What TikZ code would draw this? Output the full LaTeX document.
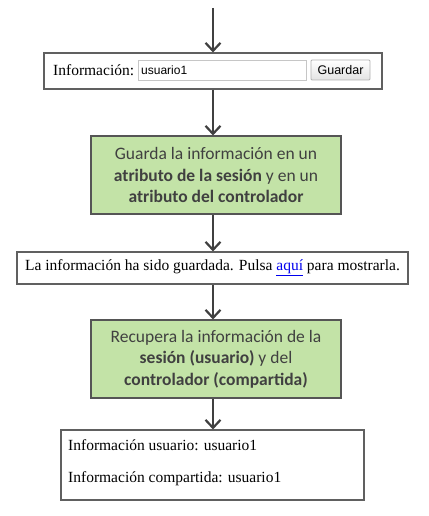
\documentclass[tikz,border=0pt]{standalone}
\usepackage{fontspec}
\usetikzlibrary{arrows.meta}
\newfontfamily\webserif{Liberation Serif}
\newfontfamily\websans{Liberation Sans}
\newfontfamily\slidefont{Carlito}
\definecolor{stepgreen}{HTML}{C3E3A7}
\definecolor{stepline}{HTML}{555555}
\definecolor{steptext}{HTML}{404040}
\definecolor{linkblue}{HTML}{0000EE}
\begin{document}
\begin{tikzpicture}[x=1pt,y=-1pt,line cap=butt,line join=miter,
    flow/.style={line width=2.6pt,draw=steptext,-{Straight Barb[length=8pt,width=15pt,line width=2.2pt]}},
    page/.style={draw=gray!75!black,line width=1.1pt,fill=white,inner sep=0pt},
    greenbox/.style={draw=stepline,line width=1.1pt,fill=stepgreen,inner sep=0pt,
      minimum width=250pt,minimum height=78pt,align=center,
      text=steptext,font=\slidefont\fontsize{17.5}{21.5}\selectfont},
    htmltext/.style={inner sep=0pt,font=\webserif\fontsize{15.5}{17}\selectfont}]
  \useasboundingbox (0,0) rectangle (428,516);
  \coordinate (start) at (213,8);
  % formulario
  \node[page,minimum width=338pt,minimum height=36pt] (form) at (213,71) {};
  \node[htmltext,anchor=west] (label) at (53,70.5) {Información:};
  \node[draw=gray!45,line width=0.8pt,fill=white,inner sep=0pt,
    minimum width=168pt,minimum height=20pt] (input) at (222,70) {};
  \node[anchor=west,inner sep=0pt,font=\websans\fontsize{12}{14}\selectfont] (value) at (141,70) {usuario1};
  \node[draw=gray!60,line width=0.8pt,top color=white,bottom color=gray!22,
    rounded corners=1pt,inner sep=0pt,minimum width=59pt,minimum height=20pt,
    font=\websans\fontsize{12.5}{14}\selectfont] (button) at (340.5,70) {Guardar};
  % pasos
  \node[greenbox] (store) at (216,175)
    {Guarda la información en un\\ \textbf{atributo de la sesión} y en un\\ \textbf{atributo del controlador}};
  \node[page,minimum width=391pt,minimum height=32pt,htmltext] (msg) at (212.5,268)
    {La información ha sido guardada. Pulsa \textcolor{linkblue}{\underline{aquí}} para mostrarla.};
  \node[greenbox] (fetch) at (216,359)
    {Recupera la información de la\\ \textbf{sesión (usuario)} y del\\ \textbf{controlador (compartida)}};
  \node[page,minimum width=303pt,minimum height=70pt] (result) at (212.5,465) {};
  \node[htmltext,anchor=west] (user) at (68,445) {Información usuario: usuario1};
  \node[htmltext,anchor=west] (shared) at (68,479) {Información compartida: usuario1};
  % flechas
  \draw[flow] (start) -- (start |- form.north);
  \draw[flow] (form.south -| start) -- (start |- store.north);
  \draw[flow] (store.south -| start) -- (start |- msg.north);
  \draw[flow] (msg.south -| start) -- (start |- fetch.north);
  \draw[flow] (fetch.south -| start) -- (start |- result.north);
\end{tikzpicture}
\end{document}
